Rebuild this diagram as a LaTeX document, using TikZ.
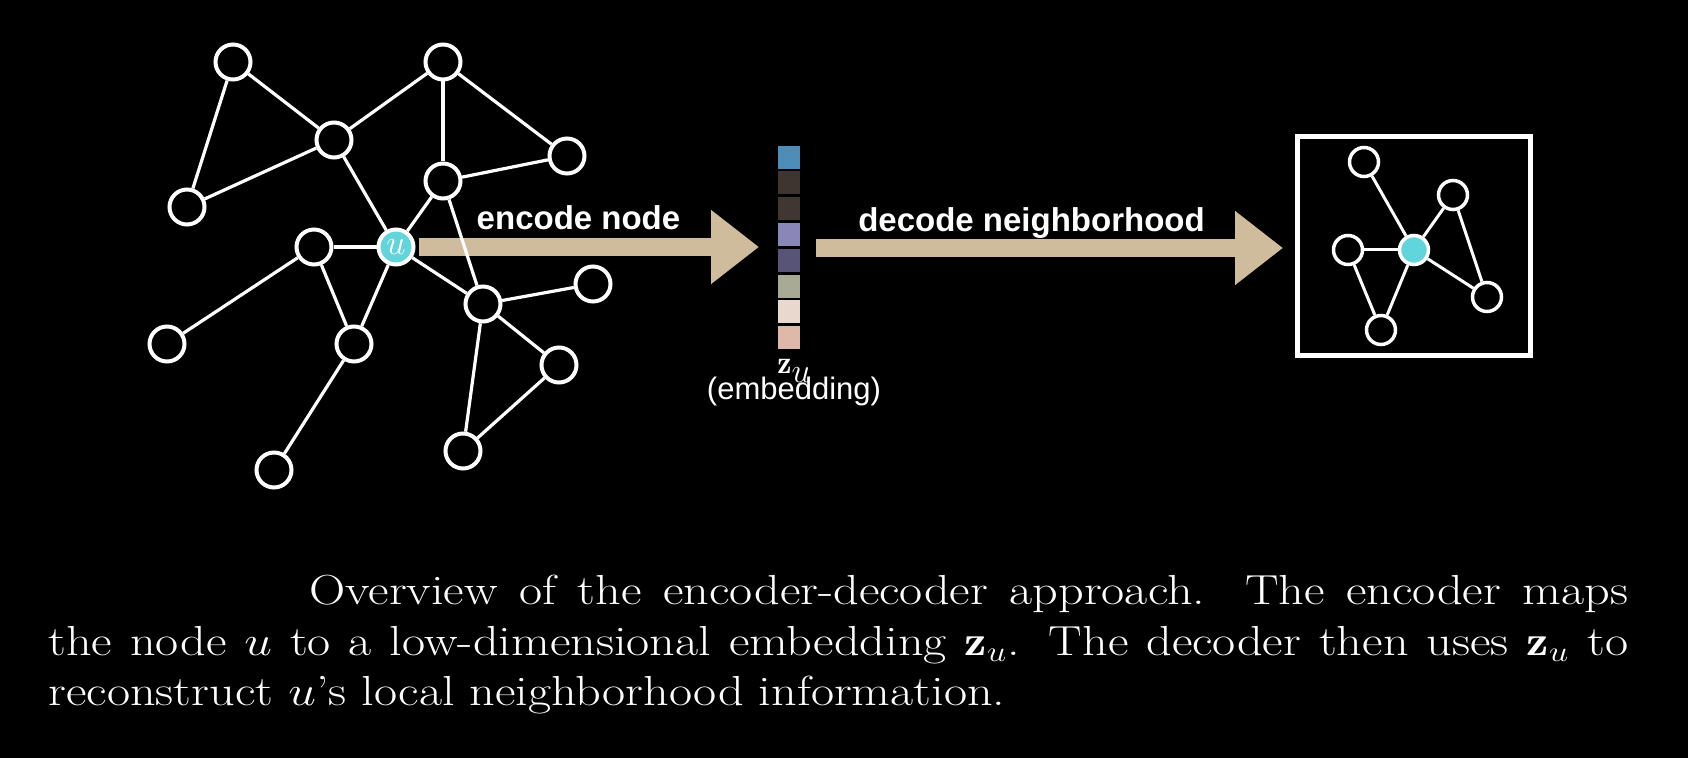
\documentclass[tikz,border=0pt]{standalone}
\usepackage{fontspec}
\usepackage{amsmath, amssymb}
\setsansfont{Liberation Sans}
\usetikzlibrary{arrows.meta, positioning}
\definecolor{arrowtan}{RGB}{206,188,156}
\definecolor{nodecyan}{RGB}{98,212,220}
\definecolor{embA}{RGB}{78,141,184}
\definecolor{embB}{RGB}{62,52,48}
\definecolor{embC}{RGB}{64,54,50}
\definecolor{embD}{RGB}{138,135,184}
\definecolor{embE}{RGB}{88,84,120}
\definecolor{embF}{RGB}{169,170,149}
\definecolor{embG}{RGB}{233,216,206}
\definecolor{embH}{RGB}{222,184,168}

\begin{document}
\begin{tikzpicture}[
    x=0.5pt, y=-0.5pt,
    vertex/.style={circle, draw=white, line width=2pt, fill=black, minimum size=17.5pt, inner sep=0pt},
    target/.style={vertex, fill=nodecyan, text=white, font=\fontsize{17}{17}\selectfont},
    small/.style={vertex, line width=1.75pt, minimum size=14.5pt},
    edge/.style={draw=white, line width=1.6pt},
    bigarrow/.style={draw=arrowtan, line width=8.75pt, -{Triangle[length=24pt, width=35.5pt]}},
    cell/.style={minimum width=11.35pt, minimum height=11.5pt, inner sep=0pt},
    lbl/.style={text=white, inner sep=0pt, font=\sffamily\bfseries\fontsize{16.5}{18}\selectfont}
]
    % Background
    \fill[black, use as bounding box] (0,0) rectangle (1688,758);

    % Input graph
    \node[vertex] (g1) at (233,62) {};
    \node[vertex] (g2) at (443,62) {};
    \node[vertex] (g3) at (334,140) {};
    \node[vertex] (g4) at (567,156) {};
    \node[vertex] (g5) at (187,207) {};
    \node[vertex] (g6) at (443,181) {};
    \node[target] (u) at (396,247) {$u$};
    \node[vertex] (g7) at (314,247) {};
    \node[vertex] (g8) at (593,284) {};
    \node[vertex] (g9) at (483,304) {};
    \node[vertex] (g10) at (167,344) {};
    \node[vertex] (g11) at (354,344) {};
    \node[vertex] (g12) at (559,365) {};
    \node[vertex] (g13) at (274,470) {};
    \node[vertex] (g14) at (463,451) {};

    % Embedding vector
    \foreach \c [count=\i] in {embA,embB,embC,embD,embE,embF,embG,embH}
        \node[cell, fill=\c] (e\i) at (789,{157.2+25.8*(\i-1)}) {};
    \node[text=white, anchor=base west, inner sep=0pt, font=\fontsize{16}{17}\selectfont] (zlbl) at (777,374) {$\mathbf{z}_{\lower1.6pt\hbox{$u$}}$};
    \node[text=white, anchor=base, inner sep=0pt, font=\sffamily\fontsize{15.5}{17}\selectfont] (emblbl) at (794,400) {(embedding)};

    % Reconstructed neighborhood
    \node[draw=white, line width=2.5pt, minimum width=116.5pt, minimum height=109.5pt, inner sep=0pt] (recon) at (1413.5,246.5) {};
    \node[small] (ra) at (1364,162) {};
    \node[small] (rb) at (1453,195) {};
    \node[small] (rc) at (1348,250) {};
    \node[small, fill=nodecyan] (ru) at (1414,250) {};
    \node[small] (rd) at (1487,297) {};
    \node[small] (re) at (1381,330) {};

    % Arrows
    \coordinate (enc tip) at (759,247);
    \coordinate (dec tail) at (816,248);
    \coordinate (dec tip) at (1283,248);
    \draw[bigarrow] ([xshift=1.75pt]u.east) -- (enc tip);
    \draw[bigarrow] (dec tail) -- (dec tip);
    \node[lbl, anchor=base] (enclbl) at (578.5,230) {encode node};
    \node[lbl, anchor=base] (declbl) at (1031.5,232) {decode neighborhood};

    % Edges
    \foreach \a/\b in {g1/g3, g1/g5, g3/g5, g3/g2, g2/g6, g2/g4, g6/g4, g3/u, g6/u, g6/g9,
        u/g7, u/g11, u/g9, g7/g10, g7/g11, g11/g13, g9/g8, g9/g12, g9/g14, g12/g14}
        \draw[edge] (\a) -- (\b);
    \foreach \a/\b in {ra/ru, rb/ru, rc/ru, ru/rd, ru/re, rc/re, rb/rd}
        \draw[edge, line width=1.5pt] (\a) -- (\b);

    % Caption (set wide, as in the figure)
    \begin{scope}[shift={(48,605)}, xscale=1.196]
        \node[transform shape, text=white, text width=660.5pt, align=justify, inner sep=0pt, anchor=base west,
            font=\fontsize{21}{25.25}\selectfont] (caption) at (0,0)
            {\hspace*{109.1pt}Overview of the encoder-decoder approach.  The encoder maps\linebreak
            the node $u$ to a low-dimensional embedding $\mathbf{z}_u$.  The decoder then uses $\mathbf{z}_u$ to\linebreak
            reconstruct $u$'s local neighborhood information.};
    \end{scope}

\end{tikzpicture}
\end{document}
